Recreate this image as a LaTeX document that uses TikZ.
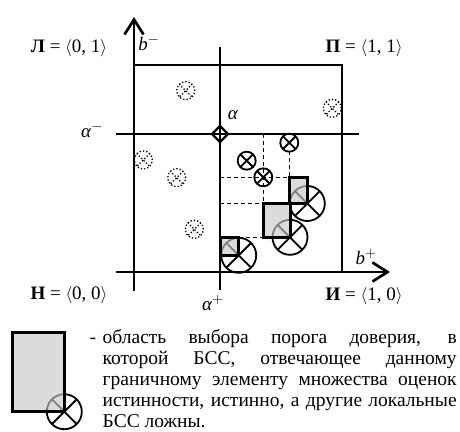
\documentclass[tikz,border=0pt]{standalone}
\usepackage{fontspec}
\setmainfont{Liberation Serif}
\usetikzlibrary{arrows.meta,shapes.geometric}
\tikzset{
  axisline/.style={line width=2.7pt,-{Straight Barb[length=15pt,width=19pt,line width=2.7pt]}},
  thinline/.style={line width=1.2pt},
  alphaline/.style={line width=1.6pt},
  dashline/.style={line width=0.9pt,dash pattern=on 4pt off 3pt},
  xcirc/.style={circle,draw,inner sep=0pt,outer sep=0pt,line width=1.8pt,minimum size=#1,
    path picture={\draw[line width=1.8pt] (path picture bounding box.north west)--(path picture bounding box.south east)
      (path picture bounding box.north east)--(path picture bounding box.south west);}},
  dotcirc/.style={circle,draw,dotted,inner sep=0pt,outer sep=0pt,line width=1.3pt,minimum size=18pt,
    path picture={\draw[dotted,line width=1.3pt] (path picture bounding box.north west)--(path picture bounding box.south east)
      (path picture bounding box.north east)--(path picture bounding box.south west);}},
  regionfill/.style={fill=black!22,fill opacity=0.64},
  regionedge/.style={line width=3pt},
  lbl/.style={inner sep=0pt,font=\fontsize{19}{22}\selectfont},
  legline/.style={inner sep=0pt,anchor=base west,font=\fontsize{19.5}{21}\selectfont},
  diamark/.style={diamond,draw,line width=2.4pt,inner sep=0pt,minimum size=17pt}
}
\begin{document}
\begin{tikzpicture}[x=1pt,y=-1pt]
\useasboundingbox (0,0) rectangle (460,431);
% coordinates
\coordinate (vb) at (134,291);
\coordinate (vt) at (134,17);
\coordinate (hl) at (116,272);
\coordinate (hr) at (390,272);
\coordinate (tl) at (134,65);
\coordinate (tr) at (342,65);
\coordinate (br) at (342,272);
\coordinate (at) at (220,47);
\coordinate (ab) at (220,290);
\coordinate (al) at (116,134);
\coordinate (ar) at (359,134);
% box
\draw[thinline] (tl) -- (tr) -- (br);
% alpha lines
\draw[alphaline] (at) -- (ab);
\draw[alphaline] (al) -- (ar);
% axes
\draw[axisline] (vb) -- (vt);
\draw[axisline] (hl) -- (hr);
% dashed guides
\coordinate (d1a) at (263.3,134);
\coordinate (d1b) at (263.3,203.3);
\coordinate (d2a) at (289.3,151);
\coordinate (d2b) at (289.3,177.3);
\coordinate (h1a) at (220,177.3);
\coordinate (h1b) at (289.3,177.3);
\coordinate (h2a) at (220,203.8);
\coordinate (h2b) at (263.3,203.8);
\coordinate (h3a) at (238.7,237.3);
\coordinate (h3b) at (263.3,237.3);
\draw[dashline] (d1a) -- (d1b);
\draw[dashline] (d2a) -- (d2b);
\draw[dashline] (h1a) -- (h1b);
\draw[dashline] (h2a) -- (h2b);
\draw[dashline] (h3a) -- (h3b);
% diamond
\node[diamark] (dm) at (220,134) {};
% small crossed circles
\node[xcirc=18pt] (s1) at (289.3,142.7) {};
\node[xcirc=18pt] (s2) at (246.7,160.7) {};
\node[xcirc=18pt] (s3) at (263.3,177.3) {};
% dotted circles
\node[dotcirc] (p1) at (185.7,90.7) {};
\node[dotcirc] (p2) at (332.3,108.3) {};
\node[dotcirc] (p3) at (143.3,160) {};
\node[dotcirc] (p4) at (176.7,177.7) {};
\node[dotcirc] (p5) at (194.3,229.3) {};
% big crossed circles
\node[xcirc=35pt] (c1) at (238.7,255.3) {};
\node[xcirc=35pt] (c2) at (290,237.3) {};
\node[xcirc=35pt] (c3) at (307.3,203.5) {};
% regions
\fill[regionfill] (220,237.3) rectangle (238.7,255.3);
\draw[regionedge] (220,237.3) rectangle (238.7,255.3);
\fill[regionfill] (263.3,203.3) rectangle (290,237.3);
\draw[regionedge] (263.3,203.3) rectangle (290,237.3);
\fill[regionfill] (289.3,177.3) rectangle (307.3,203.5);
\draw[regionedge] (289.3,177.3) rectangle (307.3,203.5);
% labels
\node[lbl] (L) at (69,48) {\textbf{Л} = $\langle$0, 1$\rangle$};
\node[lbl] (P) at (364,48) {\textbf{П} = $\langle$1, 1$\rangle$};
\node[lbl] (N) at (69,295) {\textbf{Н} = $\langle$0, 0$\rangle$};
\node[lbl] (I) at (364,296) {\textbf{И} = $\langle$1, 0$\rangle$};
\node[lbl] (bm) at (149,43) {\textit{b}$^{-}$};
\node[lbl] (bp) at (366,257) {\textit{b}$^{+}$};
\node[lbl] (am) at (92,130) {\textit{α}$^{-}$};
\node[lbl] (ap) at (213,303) {\textit{α}$^{+}$};
\node[lbl] (a0) at (233,115) {\textit{α}};
% legend
\node[xcirc=35pt] (lc) at (64.3,411.7) {};
\fill[regionfill] (12.7,332.7) rectangle (64.5,411.7);
\draw[regionedge] (12.7,332.7) rectangle (64.5,411.7);
\node[legline] (dash) at (89.5,343) {-};
\node[legline] (t1) at (102.5,343) {\makebox[354pt][s]{область выбора порога доверия, в}};
\node[legline] (t2) at (102.5,364) {\makebox[354pt][s]{которой БСС, отвечающее данному}};
\node[legline] (t3) at (102.5,385) {\makebox[354pt][s]{граничному элементу множества оценок}};
\node[legline] (t4) at (102.5,406) {\makebox[354pt][s]{истинности, истинно, а другие локальные}};
\node[legline] (t5) at (102.5,427) {БСС ложны.};
\end{tikzpicture}
\end{document}
